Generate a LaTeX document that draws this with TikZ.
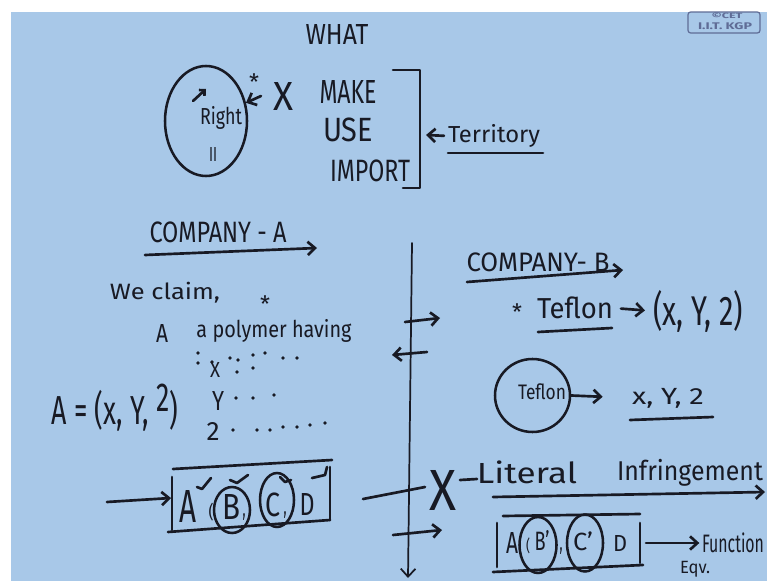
\documentclass[tikz,border=0pt]{standalone}
\usepackage{fontspec}
\setmainfont{Fira Sans}
\usetikzlibrary{arrows.meta,shapes.geometric}
\definecolor{board}{RGB}{168,200,232}
\definecolor{ink}{RGB}{24,26,36}
\definecolor{logoc}{RGB}{95,108,150}
\newlength\pxu \setlength\pxu{0.75pt}
\newcommand\hw[3]{\resizebox*{#1\pxu}{#2\pxu}{#3}}
\begin{document}
\begin{tikzpicture}[x=0.75pt,y=-0.75pt,
  hand/.style={inner sep=0pt, outer sep=0pt, text=ink},
  pen/.style={draw=ink, line width=2pt, line cap=round, line join=round},
  thinpen/.style={draw=ink, line width=1.3pt, line cap=round},
  barb/.style={-{Straight Barb[length=5.5pt,width=10pt,line width=2pt]}},
  ring/.style={draw=ink, line width=1.9pt, ellipse, inner sep=0pt},
  starmark/.style={inner sep=0pt, text=ink, font=\fontsize{17}{17}\selectfont},
]
\useasboundingbox (0,0) rectangle (767,581);
\fill[white] (0,0) rectangle (767,581);
\fill[board] (11,12) rectangle (767,581);
\clip (0,0) rectangle (767,581);

% logo
\node[draw=logoc, line width=0.9pt, rounded corners=2pt, minimum width=54pt, minimum height=15.75pt, inner sep=0pt] (logo) at (724,22.5) {};
\node[inner sep=0pt, text=logoc] (logo1) at (727,16) {\hw{31}{6}{\bfseries ©CET}};
\node[inner sep=0pt, text=logoc] (logo2) at (725,26) {\hw{54}{7}{\bfseries I.I.T. KGP}};

% ---------- top ----------
\node[hand] (what) at (337,35) {\hw{63}{20}{WHAT}};
\node[ring, minimum width=61.5pt, minimum height=82.5pt] (right) at (206,121) {};
\node[hand] (righttxt) at (221,118) {\hw{42}{23}{Right}};
\node[hand] (ii) at (213,155) {\hw{8}{14}{II}};
\coordinate (ra1) at (193,101);
\coordinate (ra2) at (206,89);
\draw[pen,-{Straight Barb[length=3pt,width=6pt,line width=2pt]}] (ra1) -- (ra2);
\node[starmark] (star1) at (254,82) {*};
\coordinate (sa) at (261,96);
\draw[pen,barb] (sa) -- (right);
\node[hand] (x1) at (283,96) {\hw{20}{28}{X}};
\node[hand] (make) at (348,92) {\hw{57}{23}{MAKE}};
\node[hand] (use) at (348,130) {\hw{50}{24}{USE}};
\node[hand] (import) at (370,171) {\hw{80}{22}{IMPORT}};
\draw[pen] (393,70) -- (420,70) -- (420,188) -- (403,188);
\node[hand] (terr) at (494,136) {\hw{92}{23}{Territory}};
\coordinate (brk) at (426,135);
\draw[pen,barb,shorten <=3pt] (terr.west) -- (brk);
\draw[pen] (448,153) -- (543,153);

% ---------- company A ----------
\node[hand] (compA) at (218,232) {\hw{137}{21}{COMPANY - A}};
\coordinate (ua1) at (145,255);
\coordinate (ua2) at (317,248);
\draw[pen,barb] (ua1) -- (ua2);
\node[hand] (claim) at (165,293) {\hw{110}{21}{We claim,}};
\node[starmark] (star2) at (265,304) {*};
\node[hand] (aa) at (162,333) {\hw{12}{18}{A}};
\node[hand] (poly) at (274,331) {\hw{155}{23}{a polymer having}};
\node[hand] (colx) at (215,370) {\hw{10}{15}{X}};
\node[hand] (coly) at (218,401) {\hw{12}{19}{Y}};
\node[hand] (colz) at (213,431) {\hw{13}{18}{2}};
\foreach \p in {(198,353),(198,363),(212,362),(230,358),(238,360),(253,355),(265,353),(283,358),(297,358),
                (237,372),(253,368),
                (236,398),(253,398),(274,395),
                (233,430),(257,430),(270,430),(283,427),(297,427),(310,425),(325,423)}
  \fill[ink] \p circle (1.4pt);
\node[hand] (aeq) at (115,408) {\hw{126}{47}{A = (x, Y, \raisebox{0.6ex}{2})}};

% box 1
\draw[pen] (173,469) -- (332,460);
\draw[pen] (168,532) -- (330,520);
\draw[pen] (172,477) -- (172,530);
\draw[pen] (330,467) -- (330,520);
\coordinate (in1) at (107,502);
\coordinate (box1w) at (171,498);
\draw[pen,barb] (in1) -- (box1w);
\node[hand] (bA) at (188,506) {\hw{17}{32}{A}};
\node[hand] (bpar) at (211,512) {\hw{5}{18}{(}};
\node[hand] (bB) at (231,507) {\hw{18}{25}{B}};
\node[hand] (bcom1) at (244,517) {\hw{3}{7}{,}};
\node[ring, minimum width=27pt, minimum height=34.5pt] (cB) at (232,510) {};
\node[hand] (bC) at (273,505) {\hw{15}{24}{C}};
\node[hand] (bcom2) at (285,515) {\hw{3}{7}{,}};
\node[ring, minimum width=25.5pt, minimum height=40.5pt] (cC) at (277,500) {};
\node[hand] (bD) at (307,504) {\hw{15}{22}{D}};
\draw[pen] (197,487) -- (202,489) -- (211,478);
\draw[pen] (230,480) -- (237,483) -- (248,475);
\draw[pen] (280,477) -- (285,482) -- (291,480);
\draw[pen] (312,478) -- (325,475) -- (327,467);

% ---------- divider ----------
\coordinate (dv1) at (412,243);
\coordinate (dv2) at (408,578);
\draw[thinpen,-{Straight Barb[length=6pt,width=11pt,line width=1.3pt]}] (dv1) -- (dv2);
\coordinate (ar1a) at (405,322); \coordinate (ar1b) at (440,318);
\draw[pen,barb] (ar1a) -- (ar1b);
\coordinate (ar2a) at (427,352); \coordinate (ar2b) at (392,355);
\draw[pen,barb] (ar2a) -- (ar2b);
\coordinate (ln3a) at (363,499); \coordinate (ln3b) at (425,487);
\draw[pen] (ln3a) -- (ln3b);
\coordinate (ar4a) at (393,535); \coordinate (ar4b) at (442,530);
\draw[pen,barb] (ar4a) -- (ar4b);

% ---------- company B ----------
\node[hand] (compB) at (538,262) {\hw{143}{19}{COMPANY- B}};
\coordinate (ub1) at (467,282);
\coordinate (ub2) at (623,270);
\draw[pen,barb] (ub1) -- (ub2);
\node[starmark] (star3) at (517,312) {*};
\node[hand] (tef) at (575,308) {\hw{76}{22}{Teflon}};
\draw[pen] (538,332) -- (612,328);
\node[hand] (xyz1) at (698,311) {\hw{90}{42}{(x, Y, 2)}};
\draw[pen,barb,shorten <=6pt,shorten >=6pt] (tef.east) -- (xyz1.west);
\node[ring, minimum width=56.25pt, minimum height=54.75pt] (tcirc) at (532.5,395.5) {};
\node[hand] (teftxt) at (542,392) {\hw{48}{16}{Teflon}};
\node[hand] (xyz2) at (668,398) {\hw{72}{20}{x, Y, 2}};
\draw[pen,barb,shorten >=22pt] (tcirc.east) -- (xyz2.west);
\draw[pen] (630,420) -- (713,417);

\node[hand] (x2) at (443,490) {\hw{27}{40}{X}};
\draw[pen] (460,480) -- (477,479);
\node[hand] (lit) at (527,472) {\hw{100}{23}{Literal}};
\node[hand] (infr) at (690,473) {\hw{146}{27}{Infringement}};
\coordinate (ul1) at (493,497);
\coordinate (ul2) at (765,492);
\draw[pen,barb] (ul1) -- (ul2);

% box 2
\draw[pen] (503,516) -- (640,514);
\draw[pen] (493,572) -- (643,565);
\draw[pen] (497,523) -- (497,567);
\draw[pen] (640,523) -- (640,563);
\node[hand] (b2A) at (512,543) {\hw{12}{21}{A}};
\node[hand] (b2par) at (528,546) {\hw{4}{16}{(}};
\node[hand] (b2B) at (542,540) {\hw{15}{20}{B'}};
\node[ring, minimum width=27.75pt, minimum height=42pt] (cB2) at (538,545) {};
\node[hand] (b2com) at (561,551) {\hw{3}{7}{,}};
\node[hand] (b2C) at (583,541) {\hw{20}{19}{C'}};
\node[ring, minimum width=27pt, minimum height=42.75pt] (cC2) at (585,543) {};
\node[hand] (b2D) at (620,543) {\hw{14}{16}{D}};
\coordinate (box2e) at (646,543);
\node[hand, anchor=west] (func) at (702,543) {\hw{62}{20}{Function}};
\draw[pen,barb,shorten >=2pt] (box2e) -- (func.west);
\node[hand] (eqv) at (695,569) {\hw{30}{16}{Eqv.}};
\end{tikzpicture}
\end{document}
